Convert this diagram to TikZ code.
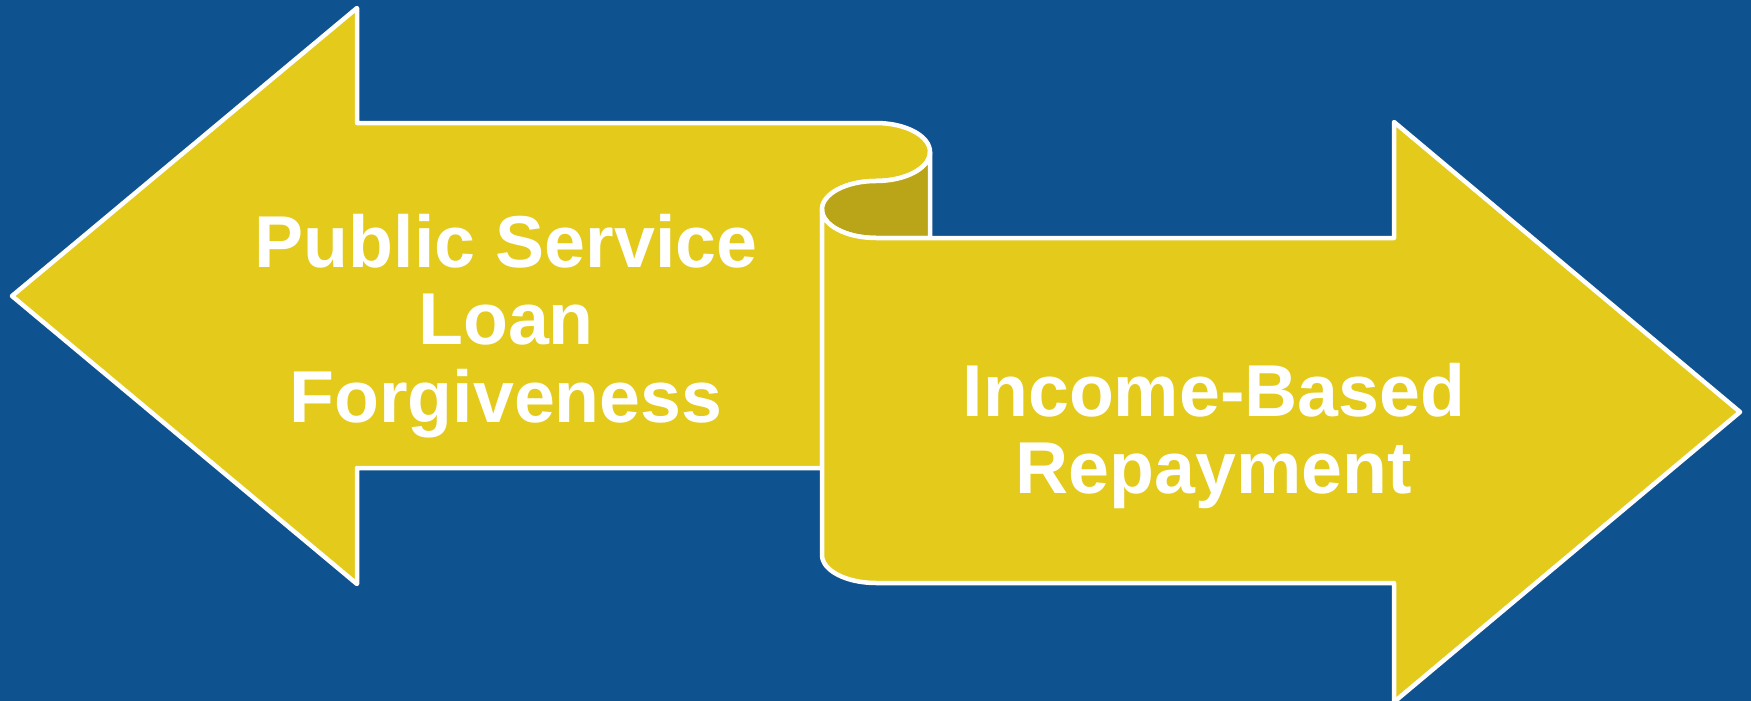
\documentclass[tikz,border=0pt]{standalone}
\usepackage{fontspec}
\setmainfont{Liberation Sans}
\definecolor{navy}{RGB}{15,82,144}
\definecolor{gold}{RGB}{227,202,27}
\definecolor{goldshade}{RGB}{186,164,23}
\begin{document}
\begin{tikzpicture}[x=1pt,y=-1pt,
  panel/.style={fill=gold, draw=white, line width=4.5pt, line join=round},
  fold/.style={fill=goldshade, draw=white, line width=4.5pt, line join=round},
  bannertext/.style={text=white, font=\bfseries\fontsize{73.5}{77.5}\selectfont,
    align=center, inner sep=0pt}]
% background
\fill[navy] (0,0) rectangle (1751,701);
\useasboundingbox (0,0) rectangle (1751,701);

% left-pointing arrow, its shaft ending in the upper roll of the scroll
\draw[panel] (357,123) -- (876,123)
  arc[start angle=-90, end angle=90, x radius=54, y radius=29]
  arc[start angle=-90, end angle=-180, x radius=54, y radius=28.5]
  -- (822,468) -- (357,468) -- (357,584) -- (12,296) -- (357,8) -- cycle;

% shaded inside of the fold
\draw[fold] (930,152) -- (930,238) -- (876,238)
  arc[start angle=90, end angle=180, x radius=54, y radius=28.5]
  arc[start angle=180, end angle=270, x radius=54, y radius=28.5]
  arc[start angle=90, end angle=0, x radius=54, y radius=29] -- cycle;

% right-pointing arrow, starting from the lower roll
\draw[panel] (822,209.5) -- (822,555)
  arc[start angle=180, end angle=90, x radius=54, y radius=28]
  -- (1394,583) -- (1394,702) -- (1740,412) -- (1394,122) -- (1394,238) -- (876,238)
  arc[start angle=90, end angle=180, x radius=54, y radius=28.5] -- cycle;

% captions
\node[bannertext] (pslf) at (506,326) {Public Service\\Loan\\Forgiveness};
\node[bannertext] (ibr) at (1214,436) {Income-Based\\Repayment};
\end{tikzpicture}
\end{document}
